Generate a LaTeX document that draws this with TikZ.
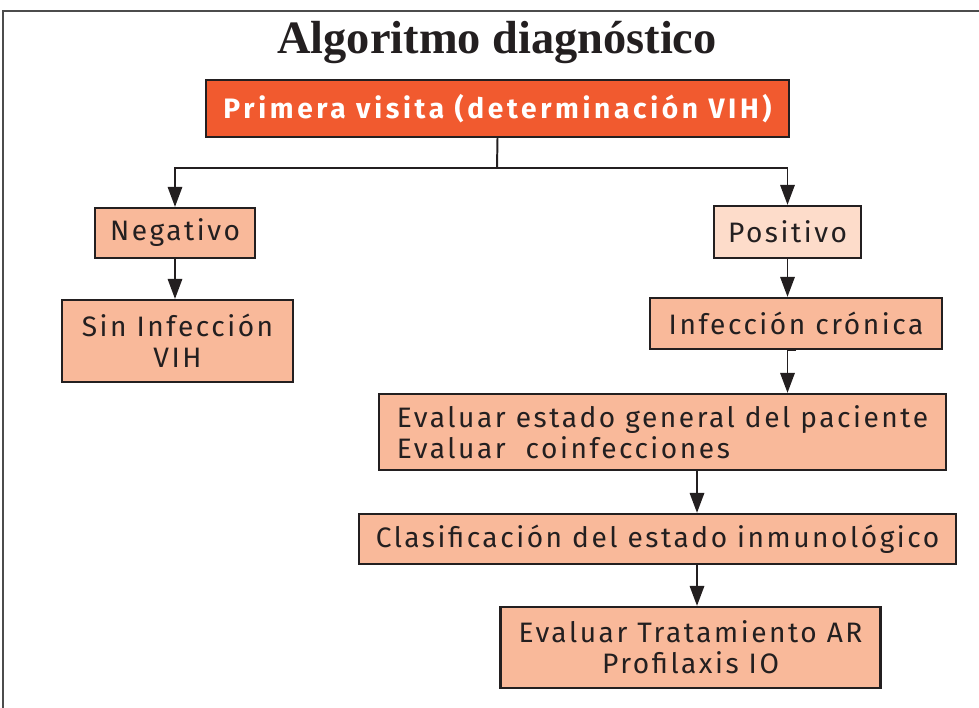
\documentclass[tikz,border=0pt]{standalone}
\usepackage{fontspec}
\setmainfont{Liberation Serif}
\newfontfamily\boxfont[LetterSpace=9]{Fira Sans}
\newfontfamily\headfont[LetterSpace=13]{Fira Sans}
\usepackage{tikz}
\usetikzlibrary{positioning,calc,arrows.meta}
\definecolor{redbox}{HTML}{F15A2F}
\definecolor{salmon}{HTML}{F9B99A}
\definecolor{pale}{HTML}{FDDCCA}
\definecolor{ink}{HTML}{231F20}
\tikzstyle{box}=[draw=ink,line width=1.6pt,fill=salmon,inner sep=0pt,text=ink,
  font=\boxfont\fontsize{20}{22}\selectfont,align=center]
\tikzstyle{link}=[draw=ink,line width=1.4pt,-{Triangle[length=5mm,width=3.6mm]}]

\begin{document}
\begin{tikzpicture}[x=0.025cm,y=-0.025cm]
  \useasboundingbox (0,0) rectangle (979,708);
  \draw [draw=black!70, line width=0.9pt] (3,708) -- (3,11) -- (979,11);

  \node [font=\bfseries\fontsize{33}{35}\selectfont, text=ink] at (497,43) (title) {Algoritmo diagnóstico};

  \node [box, fill=redbox, text=white, minimum width=583*0.025cm, minimum height=57*0.025cm,
         font=\headfont\bfseries\fontsize{20}{22}\selectfont] at (497.5,108.5) (primera) {Primera visita (determinación VIH)};
  \node [box, minimum width=160*0.025cm, minimum height=50*0.025cm] at (175,233)     (negativo) {Negativo};
  \node [box, minimum width=231*0.025cm, minimum height=82*0.025cm] at (177.5,341)   (sinvih)   {Sin Infección\\VIH};
  \node [box, fill=pale, minimum width=147*0.025cm, minimum height=52*0.025cm] at (787.5,232) (positivo) {Positivo};
  \node [box, minimum width=292*0.025cm, minimum height=51*0.025cm] at (796,323.5)   (cronica)  {Infección crónica};
  \node [box, align=left, minimum width=567*0.025cm, minimum height=76*0.025cm] at (662.5,432) (evaluar) {Evaluar estado general del paciente\\Evaluar \ coinfecciones};
  \node [box, minimum width=597*0.025cm, minimum height=50*0.025cm] at (657.5,539)   (clasif)   {Clasificación del estado inmunológico};
  \node [box, minimum width=380*0.025cm, minimum height=81*0.025cm] at (690.5,647.5) (tratam)   {Evaluar Tratamiento AR\\Profilaxis IO};

  \coordinate (split) at (497,168);
  \coordinate (axis) at (697,0);

  \draw [link] (primera.south) -- (split) -| (negativo.north);
  \draw [link] (split) -| (positivo.north);
  \draw [link] (negativo.south) -- (negativo.south |- sinvih.north);
  \draw [link] (positivo.south) -- (positivo.south |- cronica.north);
  \draw [link] (cronica.south) -- (cronica.south -| positivo) -- (positivo |- evaluar.north);
  \draw [link] (evaluar.south -| axis) -- (clasif.north -| axis);
  \draw [link] (clasif.south -| axis) -- (tratam.north -| axis);
\end{tikzpicture}
\end{document}
